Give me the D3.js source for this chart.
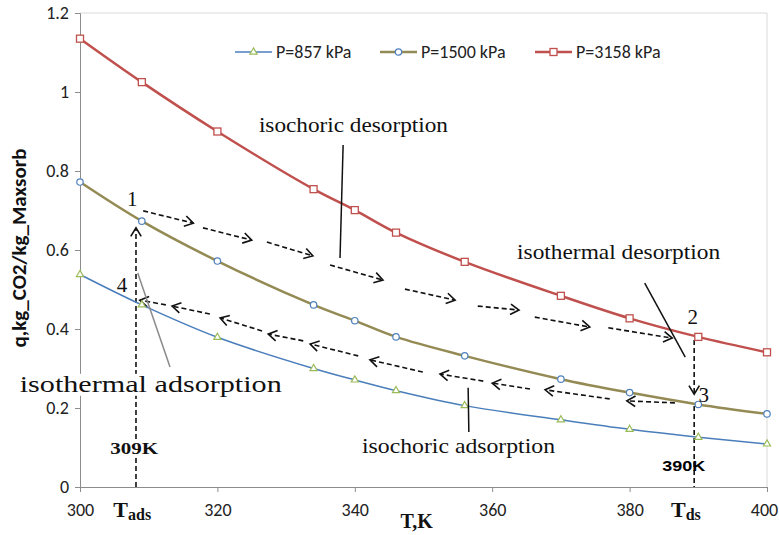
<!DOCTYPE html>
<html>
  <head>
    <title>CO2 adsorption cycle</title>
    <script src="https://d3js.org/d3.v7.min.js"></script>
    <style>
      body { margin: 0; background: #fff; }
      .tick text { font-family: Carlito, "Liberation Sans", Arial, sans-serif; font-size: 18px; fill: #222; }
      .serif { font-family: "Liberation Serif", "Times New Roman", serif; fill: #111; }
    </style>
  </head>
  <body>
    <div id="vis"></div>
    <script>
      // temperatures (K) and uptake q for each pressure
      var temps = [300, 309, 320, 334, 340, 346, 356, 370, 380, 390, 400];
      var q857 = [0.538, 0.461, 0.379, 0.300, 0.271, 0.244, 0.206, 0.170, 0.146, 0.126, 0.109];
      var q1500 = [0.772, 0.673, 0.572, 0.461, 0.421, 0.380, 0.332, 0.273, 0.239, 0.209, 0.185];
      var q3158 = [1.135, 1.025, 0.900, 0.754, 0.701, 0.644, 0.570, 0.484, 0.427, 0.380, 0.341];
      var seriesNames = ["P=857 kPa", "P=1500 kPa", "P=3158 kPa"];
      var xTicks = [300, 320, 340, 360, 380, 400];
      var yTicks = [0, 0.2, 0.4, 0.6, 0.8, 1, 1.2];

      // cycle arrows, [T1, q1, T2, q2] in data units (arrow head at second point)
      var desorbArrows = [
        [309.2, 0.699, 316.5, 0.668], [317.9, 0.656, 325.0, 0.625], [327.2, 0.620, 333.9, 0.585],
        [336.4, 0.562, 344.1, 0.524], [347.3, 0.501, 354.6, 0.473], [357.9, 0.458, 363.9, 0.448],
        [366.2, 0.430, 374.2, 0.405], [376.9, 0.403, 386.2, 0.377]
      ];
      var adsorbArrows = [
        [386.6, 0.213, 379.6, 0.218], [377.1, 0.223, 367.7, 0.246], [365.5, 0.248, 360.0, 0.263],
        [358.7, 0.268, 352.4, 0.286], [349.9, 0.291, 342.2, 0.322], [340.5, 0.332, 333.5, 0.362],
        [332.5, 0.370, 327.4, 0.387], [326.5, 0.395, 320.4, 0.428], [318.9, 0.438, 313.4, 0.458],
        [312.5, 0.461, 308.7, 0.473]
      ];

      var width = 779, height = 535;
      var svg = d3.select("#vis").append("svg")
        .attr("width", width)
        .attr("height", height);

      var x = d3.scaleLinear().domain([300, 400]).range([80, 767]);
      var y = d3.scaleLinear().domain([0, 1.2]).range([487, 13]);

      // plot border (top / right)
      svg.append("path")
        .attr("d", "M" + x(300) + "," + y(1.2) + "H" + x(400) + "V" + y(0))
        .attr("fill", "none").attr("stroke", "#d9d9d9").attr("stroke-width", 1);

      var xAxis = svg.append("g")
        .attr("transform", "translate(0," + y(0) + ")")
        .call(d3.axisBottom(x).tickValues(xTicks).tickSize(5).tickPadding(11).tickFormat(d3.format("d")));
      xAxis.selectAll(".tick text").filter(function (d) { return d === 400; }).attr("dx", -3);
      var yAxis = svg.append("g")
        .attr("transform", "translate(" + x(300) + ",0)")
        .call(d3.axisLeft(y).tickValues(yTicks).tickSize(5).tickPadding(6).tickFormat(function (d) { return d; }));
      [xAxis, yAxis].forEach(function (a) {
        a.select(".domain").attr("stroke", "#8c8c8c");
        a.selectAll(".tick line").attr("stroke", "#8c8c8c");
      });

      var line = d3.line()
        .x(function (d) { return x(d[0]); })
        .y(function (d) { return y(d[1]); })
        .curve(d3.curveCatmullRom.alpha(0.5));

      function pairs(vals) { return temps.map(function (t, i) { return [t, vals[i]]; }); }

      var series = [
        { vals: q857, color: "#4a7ebb", w: 1.5, marker: "tri", mcol: "#9bbb59" },
        { vals: q1500, color: "#948a54", w: 2.5, marker: "circ", mcol: "#4f81bd" },
        { vals: q3158, color: "#c0504d", w: 2.5, marker: "sq", mcol: "#c0504d" }
      ];

      function drawMarker(g, kind, col, cx, cy) {
        if (kind === "tri") {
          g.append("path").attr("d", d3.symbol(d3.symbolTriangle, 22)())
            .attr("transform", "translate(" + cx + "," + cy + ")")
            .attr("fill", "#fff").attr("stroke", col).attr("stroke-width", 1.2);
        } else if (kind === "circ") {
          g.append("circle").attr("cx", cx).attr("cy", cy).attr("r", 3.2)
            .attr("fill", "#fff").attr("stroke", col).attr("stroke-width", 1.2);
        } else {
          g.append("rect").attr("x", cx - 3.5).attr("y", cy - 3.5).attr("width", 7).attr("height", 7)
            .attr("fill", "#fff").attr("stroke", col).attr("stroke-width", 1.3);
        }
      }

      // annotation helpers
      var ann = svg.append("g");
      function arrow(g, x1, y1, x2, y2, dashed) {
        g.append("line").attr("x1", x1).attr("y1", y1).attr("x2", x2).attr("y2", y2)
          .attr("stroke", "#111").attr("stroke-width", 1.6)
          .attr("stroke-dasharray", dashed ? "5,3" : null);
        var a = Math.atan2(y2 - y1, x2 - x1), L = 10, s = 0.55;
        var p1 = [x2 - L * Math.cos(a - s), y2 - L * Math.sin(a - s)];
        var p2 = [x2 - L * Math.cos(a + s), y2 - L * Math.sin(a + s)];
        g.append("path").attr("d", "M" + p1 + "L" + x2 + "," + y2 + "L" + p2)
          .attr("fill", "none").attr("stroke", "#111").attr("stroke-width", 1.6);
      }
      function label(txt, t, q, size, opts) {
        opts = opts || {};
        var el = ann.append("text").attr("class", opts.cls || "serif")
          .attr("x", x(t)).attr("y", y(q))
          .attr("text-anchor", "middle")
          .style("font-size", size + "px")
          .style("font-weight", opts.bold ? "bold" : null)
          .text(txt);
        if (opts.len) el.attr("textLength", opts.len).attr("lengthAdjust", "spacingAndGlyphs");
        return el;
      }
      function whiteBox(el) {
        var b = el.node().getBBox();
        ann.insert("rect", "text").attr("x", b.x - 1).attr("y", b.y + 2)
          .attr("width", b.width + 2).attr("height", b.height - 3).attr("fill", "#fff");
      }

      // dashed verticals (4 -> 1 and 2 -> 3 -> axis)
      arrow(ann, x(308.15), y(0), x(308.15), y(0.656), true);
      arrow(ann, x(389.4), y(0.372), x(389.4), y(0.235), true);
      ann.append("line").attr("x1", x(389.4)).attr("x2", x(389.4)).attr("y1", y(0.205)).attr("y2", y(0))
        .attr("stroke", "#111").attr("stroke-width", 1.6).attr("stroke-dasharray", "5,3");

      desorbArrows.forEach(function (d) { arrow(ann, x(d[0]), y(d[1]), x(d[2]), y(d[3]), true); });
      adsorbArrows.forEach(function (d) { arrow(ann, x(d[0]), y(d[1]), x(d[2]), y(d[3]), true); });

      // series lines and markers
      series.forEach(function (s) {
        var g = svg.append("g");
        g.append("path").datum(pairs(s.vals)).attr("d", line)
          .attr("fill", "none").attr("stroke", s.color).attr("stroke-width", s.w);
        pairs(s.vals).forEach(function (p) { drawMarker(g, s.marker, s.mcol, x(p[0]), y(p[1])); });
      });

      // leader lines
      var leaders = [
        [338.3, 0.866, 337.85, 0.580, "#111"],
        [382.2, 0.516, 388.1, 0.329, "#111"],
        [308.4, 0.542, 313.1, 0.304, "#8a8a8a"],
        [356.5, 0.251, 356.6, 0.139, "#111"]
      ];
      leaders.forEach(function (d) {
        svg.append("line").attr("x1", x(d[0])).attr("y1", y(d[1])).attr("x2", x(d[2])).attr("y2", y(d[3]))
          .attr("stroke", d[4]).attr("stroke-width", 1.5);
      });

      ann = svg.append("g");
      label("isochoric desorption", 339.8, 0.899, 21, { len: 189 });
      label("isothermal desorption", 378.4, 0.577, 21, { len: 203 });
      whiteBox(label("isothermal adsorption", 310.3, 0.241, 23, { len: 262 }));
      label("isochoric adsorption", 355.1, 0.086, 21, { len: 193 });
      whiteBox(label("309K", 307.9, 0.084, 16, { bold: true, len: 48 }));
      label("390K", 387.9, 0.041, 15, { bold: true, cls: "sans", len: 43 })
        .style("font-family", "'Liberation Sans Narrow', 'Liberation Sans', Arial, sans-serif");
      label("1", 307.6, 0.711, 21);
      label("2", 389.2, 0.413, 21);
      label("3", 390.8, 0.215, 21);
      label("4", 306.1, 0.494, 21);

      // x-axis extra labels
      var tAds = svg.append("text").attr("class", "serif").attr("x", x(307.6)).attr("y", 517)
        .attr("text-anchor", "middle").style("font-weight", "bold").style("font-size", "22px");
      tAds.append("tspan").text("T");
      tAds.append("tspan").attr("dy", 3).style("font-size", "16px").text("ads");
      var tDs = svg.append("text").attr("class", "serif").attr("x", x(388.2)).attr("y", 517)
        .attr("text-anchor", "middle").style("font-weight", "bold").style("font-size", "22px");
      tDs.append("tspan").text("T");
      tDs.append("tspan").attr("dy", 3).style("font-size", "16px").text("ds");

      svg.append("text").attr("class", "serif")
        .attr("x", x(349)).attr("y", 528).attr("text-anchor", "middle")
        .style("font-weight", "bold").style("font-size", "20px").text("T,K");

      svg.append("text")
        .attr("transform", "translate(26," + y(0.605) + ") rotate(-90)")
        .attr("text-anchor", "middle")
        .style("font-family", "Carlito, 'Liberation Sans', Arial, sans-serif")
        .style("font-weight", "bold").style("font-size", "21px").attr("fill", "#111")
        .text("q,kg_CO2/kg_Maxsorb");

      // legend
      var legX = [235, 380, 535];
      series.forEach(function (s, i) {
        var g = svg.append("g").attr("transform", "translate(" + legX[i] + ",52)");
        g.append("line").attr("x1", 0).attr("x2", 37).attr("stroke", s.color).attr("stroke-width", s.w);
        drawMarker(g, s.marker, s.mcol, 18.5, 0);
        g.append("text").attr("x", 41).attr("y", 6)
          .style("font-family", "Carlito, 'Liberation Sans', Arial, sans-serif")
          .style("font-size", "18px").attr("fill", "#222")
          .text(seriesNames[i]);
      });
    </script>
  </body>
</html>
